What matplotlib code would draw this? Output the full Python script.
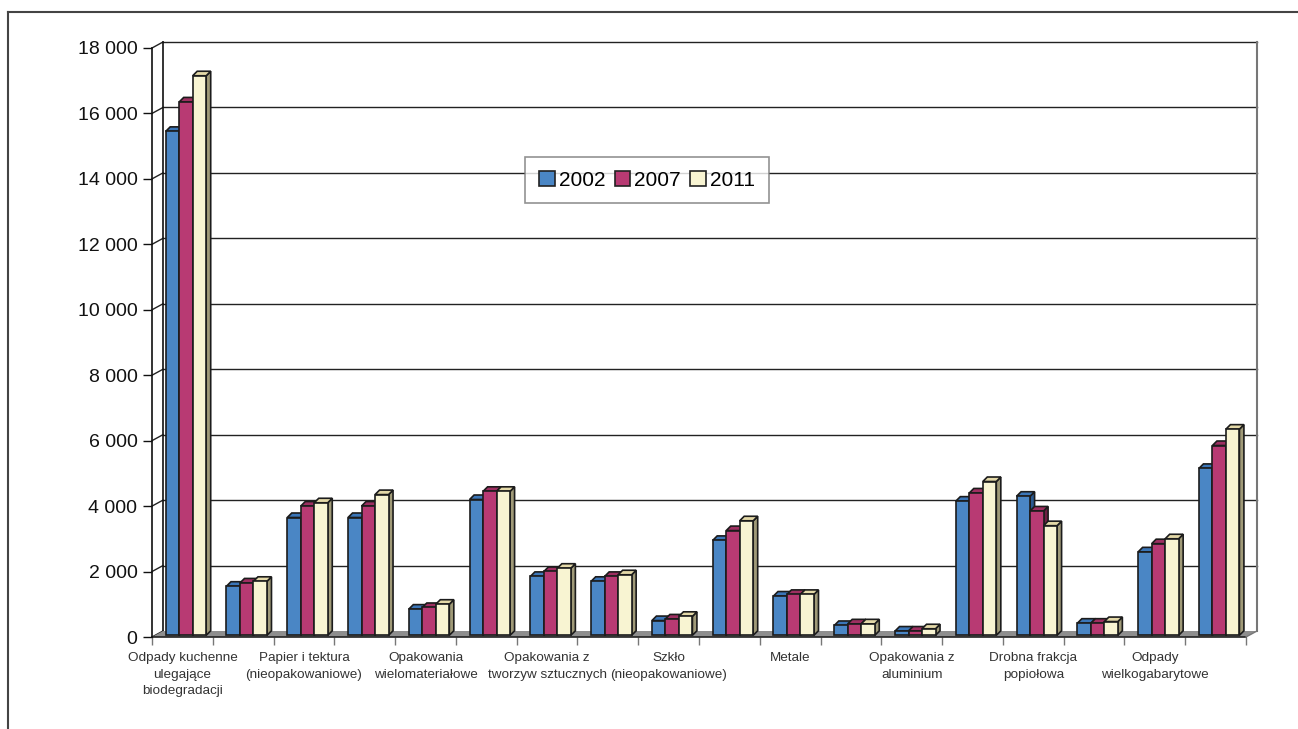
import matplotlib
matplotlib.use("Agg")
import matplotlib.pyplot as plt
from matplotlib.patches import Polygon, Patch
from matplotlib.lines import Line2D

plt.rcParams['font.family'] = ['Liberation Sans', 'DejaVu Sans']

categories = [
    "Odpady kuchenne\nulegające\nbiodegradacji", "",
    "Papier i tektura\n(nieopakowaniowe)", "",
    "Opakowania\nwielomateriałowe", "",
    "Opakowania z\ntworzyw sztucznych", "",
    "Szkło\n(nieopakowaniowe)", "",
    "Metale", "",
    "Opakowania z\naluminium", "",
    "Drobna frakcja\npopiołowa", "",
    "Odpady\nwielkogabarytowe", "",
]
years = ["2002", "2007", "2011"]
v2002 = [15400, 1500, 3600, 3600, 800, 4150, 1800, 1650, 450,
         2900, 1200, 300, 130, 4100, 4250, 370, 2550, 5100]
v2007 = [16300, 1600, 3950, 3950, 850, 4400, 1950, 1800, 500,
         3200, 1250, 350, 130, 4350, 3800, 370, 2800, 5800]
v2011 = [17100, 1650, 4050, 4300, 950, 4400, 2050, 1850, 580,
         3500, 1250, 350, 200, 4700, 3350, 420, 2950, 6300]
yticks = list(range(0, 18001, 2000))

front = ['#4a86c5', '#b83a73', '#f8f4d2']
tops = ['#3b76b8', '#9e2f61', '#e4d9a8']
sides = ['#2a5a92', '#6e1f43', '#a09a78']

W, H = 1298, 729
fig = plt.figure(figsize=(W / 100, H / 100), dpi=100)
ax = fig.add_axes([152 / W, (H - 637) / H, (1246 - 152) / W, (637 - 48) / H])
ax.set_xlim(0, 18)
ax.set_ylim(0, 18000)

# pixel -> data scale
sx = 18 / (1246 - 152)
sy = 18000 / (637 - 48)
bx, by = 11 * sx, 6 * sy  # back wall offset

for s in ['top', 'right', 'bottom']:
    ax.spines[s].set_visible(False)
ax.spines['left'].set_color('#111')
ax.spines['left'].set_linewidth(1.2)

ax.set_yticks(yticks)
ax.set_yticklabels([f"{v:,}".replace(",", " ") for v in yticks])
ax.tick_params(axis='y', direction='out', length=6.5, width=1, pad=4,
               labelsize=14, colors='#111')

ax.set_xticks(range(19))
ax.set_xticklabels([])
ax.set_xticks([i + 0.5 for i in range(18)], minor=True)
ax.set_xticklabels(categories, minor=True, fontsize=9.7, color='#333',
                   linespacing=1.5, va='top')
ax.tick_params(axis='x', which='major', length=6, width=1, color='#777')
ax.tick_params(axis='x', which='minor', length=0, pad=11)

# back wall grid
for v in yticks[1:]:
    ax.plot([bx, 18 + bx], [v + by, v + by], color='#222', lw=1,
            clip_on=False, zorder=1)
for v in yticks:
    ax.plot([0, bx], [v, v + by], color='#222', lw=1, clip_on=False, zorder=1)
ax.plot([bx, bx], [by, 18000 + by], color='#111', lw=1.2, clip_on=False, zorder=1)
ax.plot([18 + bx, 18 + bx], [by, 18000 + by], color='#777', lw=1.5,
        clip_on=False, zorder=1)

# floor
ax.add_patch(Polygon([(0, 0), (18, 0), (18 + bx, by), (bx, by)], closed=True,
                     facecolor='#8e8e8e', edgecolor='none', zorder=2,
                     clip_on=False))
ax.plot([0, 18], [0, 0], color='#222', lw=1.2, clip_on=False, zorder=2)
ax.plot([18, 18 + bx], [0, by], color='#777', lw=1, clip_on=False, zorder=2)

# bars
w = 13.5 * sx
x0 = 13.7 * sx
dx, dy = 4.5 * sx, 4.5 * sy
b0 = 1.7 * sy
series = [v2002, v2007, v2011]
z = 3
for i in range(18):
    for j in range(3):
        h = series[j][i]
        xl = i + x0 + j * w
        xr = xl + w
        top = b0 + h
        kw = dict(edgecolor='#1c1c1c', lw=1.2, closed=True, clip_on=False)
        ax.add_patch(Polygon([(xr, b0), (xr + dx, b0 + dy), (xr + dx, top + dy),
                              (xr, top)], facecolor=sides[j], zorder=z, **kw))
        ax.add_patch(Polygon([(xl, top), (xr, top), (xr + dx, top + dy),
                              (xl + dx, top + dy)], facecolor=tops[j], zorder=z, **kw))
        ax.add_patch(Polygon([(xl, b0), (xr, b0), (xr, top), (xl, top)],
                             facecolor=front[j], zorder=z, **kw))
        z += 1

handles = [Patch(facecolor=front[j], edgecolor='#222', lw=1.2) for j in range(3)]
leg = fig.legend(handles, years, loc='center', bbox_to_anchor=(647 / W, 1 - 180 / H),
                 ncol=3, fontsize=15, frameon=True, fancybox=False,
                 edgecolor='#777', handlelength=0.75, handleheight=0.75,
                 handletextpad=0.2, columnspacing=0.45, borderpad=0.65)
leg.get_frame().set_linewidth(1.2)
leg.set_zorder(100)

# outer frame
fig.add_artist(Line2D([8 / W, 1], [1 - 12 / H] * 2, transform=fig.transFigure,
                      color='#444', lw=1.5))
fig.add_artist(Line2D([8 / W] * 2, [0, 1 - 12 / H], transform=fig.transFigure,
                      color='#444', lw=1.5))

fig.savefig("out.png", dpi=100)
